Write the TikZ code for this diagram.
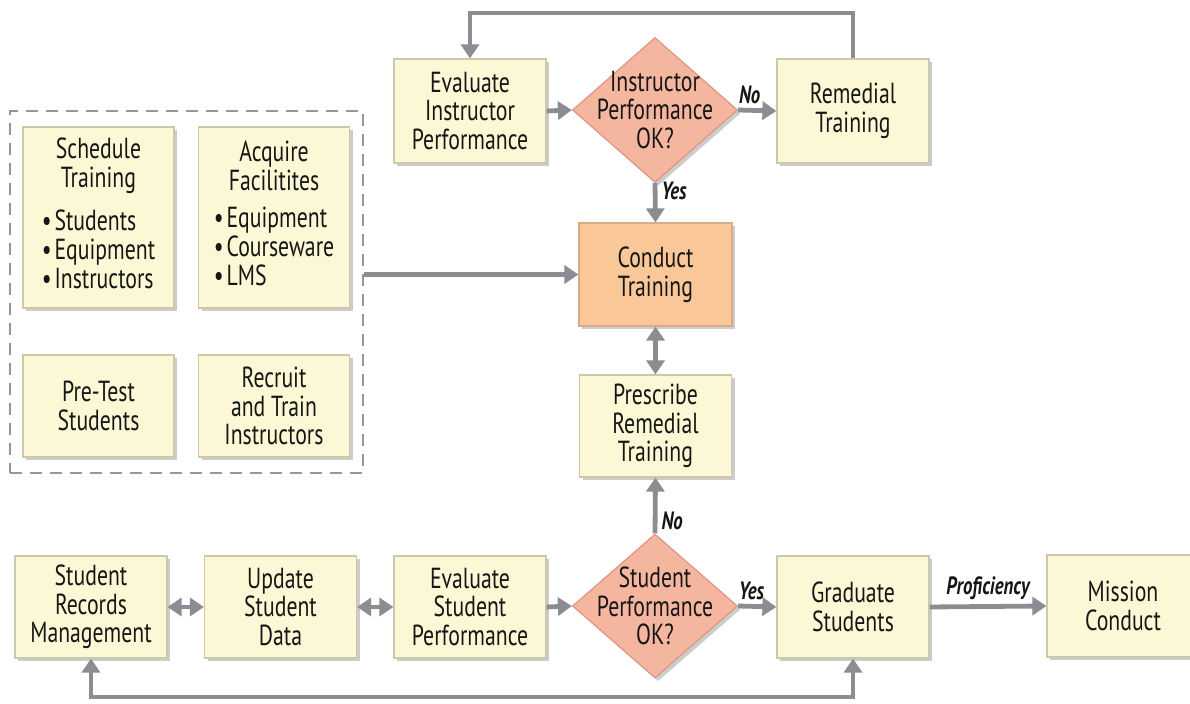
\documentclass[tikz,border=0pt]{standalone}
\usepackage{fontspec}
\setmainfont{PT Sans}[FakeStretch=0.75]
\usetikzlibrary{shapes.geometric,arrows.meta,shadows}
\definecolor{boxfill}{RGB}{252,247,212}
\definecolor{boxdraw}{RGB}{205,200,170}
\definecolor{condfill}{RGB}{250,200,152}
\definecolor{conddraw}{RGB}{215,172,132}
\definecolor{diafill}{RGB}{245,182,160}
\definecolor{diadraw}{RGB}{222,150,128}
\definecolor{arrc}{RGB}{140,140,146}
\definecolor{dashc}{RGB}{150,150,150}
\definecolor{txtc}{RGB}{22,22,22}
\tikzset{
  base/.style={font=\fontsize{14.5}{14.3}\selectfont, text=txtc, align=center, inner sep=2pt,
    drop shadow={shadow xshift=1.6pt, shadow yshift=-1.6pt, opacity=0.2, fill=black}},
  box/.style={base, rectangle, draw=boxdraw, line width=0.6pt, fill=boxfill,
    minimum width=76pt, minimum height=52pt},
  condbox/.style={box, fill=condfill, draw=conddraw},
  dia/.style={base, diamond, draw=diadraw, line width=0.6pt, fill=diafill, inner sep=0pt,
    minimum width=82.5pt, minimum height=72.5pt},
  diatext/.style={font=\fontsize{14.5}{14.3}\selectfont, text=txtc, align=center, inner sep=0pt},
  arr/.style={draw=arrc, line width=2.4pt, -{Triangle[width=9pt,length=7pt]}},
  darr/.style={draw=arrc, line width=2.4pt, {Triangle[width=9pt,length=7pt]}-{Triangle[width=9pt,length=7pt]}},
  lbl/.style={font=\fontsize{12.5}{14}\selectfont\bfseries\itshape, text=txtc, inner sep=1pt},
  grpbox/.style={draw=dashc, line width=0.6pt, dash pattern=on 6pt off 4pt, inner sep=0pt,
    minimum width=176.5pt, minimum height=181pt}
}
\begin{document}
\begin{tikzpicture}[x=0.5pt,y=-0.5pt]
\useasboundingbox[fill=white] (0,0) rectangle (1190,704);

% group of preparation tasks
\node[grpbox] (grp) at (186.5,292) {};
\node[box, minimum width=75.5pt, minimum height=90.5pt] (sched) at (98.5,217.5)
  {Schedule\\Training\\[7pt]\begin{tabular}{@{}l@{}}\textbullet\hspace{1.5pt}Students\\\textbullet\hspace{1.5pt}Equipment\\\textbullet\hspace{1.5pt}Instructors\end{tabular}};
\node[box, minimum width=75.5pt, minimum height=90.5pt] (acq) at (274,217.5)
  {Acquire\\Facilitites\\[7pt]\begin{tabular}{@{}l@{}}\textbullet\hspace{1.5pt}Equipment\\\textbullet\hspace{1.5pt}Courseware\\\textbullet\hspace{1.5pt}LMS\end{tabular}};
\node[box, minimum width=75.5pt, minimum height=51pt] (pretest) at (98.5,406) {Pre-Test\\Students};
\node[box, minimum width=75.5pt, minimum height=51pt] (recruit) at (274,406) {Recruit\\and Train\\Instructors};

% top row
\node[box] (evi) at (470,111) {Evaluate\\Instructor\\Performance};
\node[dia, label={[diatext]center:{Instructor\\Performance\\OK?}}] (idia) at (655,110) {};
\node[box] (rem) at (853,111) {Remedial\\Training};

% middle column
\node[condbox, minimum width=76.5pt, minimum height=51.5pt] (cond) at (655.5,274.5) {Conduct\\Training};
\node[box, minimum height=51pt] (presc) at (655.5,426) {Prescribe\\Remedial\\Training};

% bottom row
\node[box, minimum height=51pt] (srm) at (91,607) {Student\\Records\\Management};
\node[box, minimum height=51pt] (upd) at (280.5,607) {Update\\Student\\Data};
\node[box, minimum height=51pt] (evs) at (470,607) {Evaluate\\Student\\Performance};
\node[dia, minimum height=72pt, label={[diatext]center:{Student\\Performance\\OK?}}] (sdia) at (655,606) {};
\node[box, minimum height=51pt] (grad) at (853,607) {Graduate\\Students};
\node[box, minimum height=51pt] (miss) at (1123,606) {Mission\\Conduct};

\coordinate (toploop) at (0,13);
\coordinate (botloop) at (0,697);

% connectors
\draw[arr] (evi.east) -- (idia.west);
\draw[arr] (idia.east) -- node[lbl, above, pos=0.3, yshift=1pt] {No} (rem.west);
\draw[arr] (idia.south) -- node[lbl, right, pos=0.2, xshift=1pt] {Yes} (cond.north);
\draw[arr] (rem.north) -- (rem.north |- toploop) -- (evi.north |- toploop) -- (evi.north);
\draw[arr] (grp.east |- cond.west) -- (cond.west);
\draw[darr] (cond.south) -- (presc.north);
\draw[arr] (sdia.north) -- node[lbl, right, pos=0.22, xshift=1pt] {No} (presc.south);
\draw[darr] (srm.east) -- (upd.west);
\draw[darr] (upd.east) -- (evs.west);
\draw[arr] (evs.east) -- (sdia.west);
\draw[arr] (sdia.east) -- node[lbl, above, pos=0.35, yshift=1pt] {Yes} (grad.west);
\draw[arr] (grad.east) -- node[lbl, above, yshift=1pt] {Proficiency} (miss.west);
\draw[darr] (srm.south) -- (srm.south |- botloop) -- (grad.south |- botloop) -- (grad.south);
\end{tikzpicture}
\end{document}
